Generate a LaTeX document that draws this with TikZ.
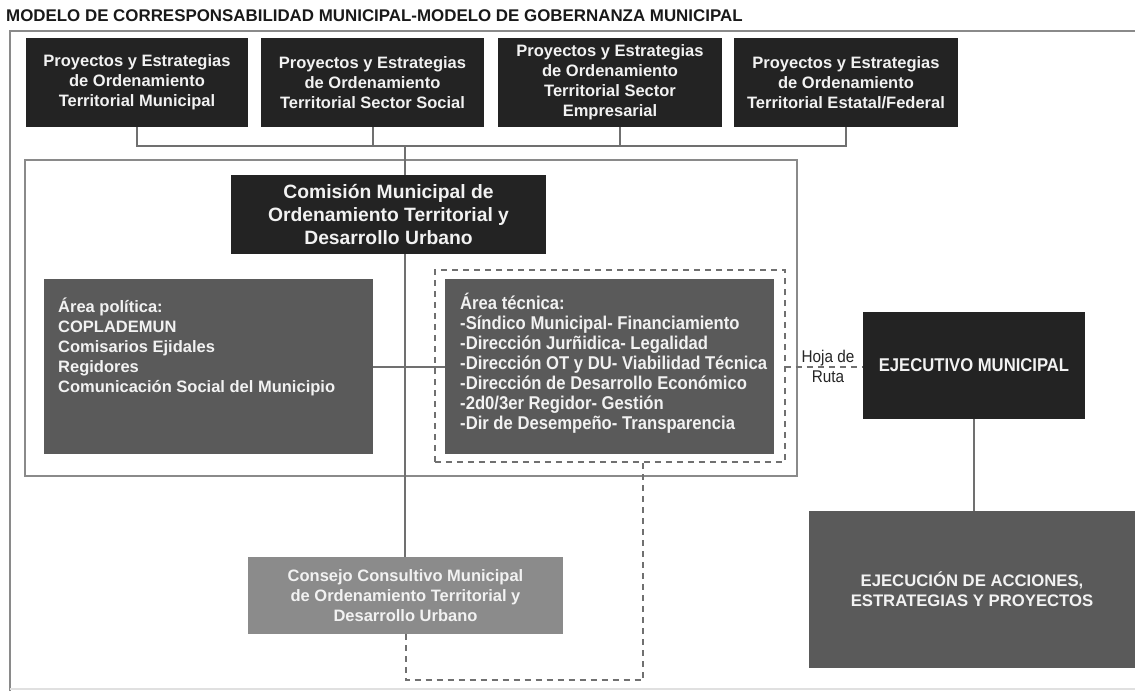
\documentclass[tikz,border=0pt]{standalone}
\usepackage{fontspec}
\setmainfont{Liberation Sans}
\newfontfamily\condf[FakeStretch=0.9]{Liberation Sans}
\definecolor{boxdark}{HTML}{232323}
\definecolor{boxmid}{HTML}{5A5A5A}
\definecolor{boxlight}{HTML}{8B8B8B}
\definecolor{linegray}{HTML}{707070}
\definecolor{framegray}{HTML}{8A8A8A}
\definecolor{txtwhite}{HTML}{F2F2F2}
\begin{document}
\begin{tikzpicture}[x=1pt,y=-1pt,
  base/.style={rectangle, inner sep=0pt, outer sep=0pt, draw=none, text=txtwhite, align=center},
  darkbox/.style={base, fill=boxdark, font=\bfseries\fontsize{16.5}{20}\selectfont},
  midbox/.style={base, fill=boxmid},
  lightbox/.style={base, fill=boxlight, font=\bfseries\fontsize{16.5}{20}\selectfont},
  conn/.style={draw=linegray, line width=2pt},
  dconn/.style={draw=linegray, line width=2pt, dash pattern=on 6pt off 5pt},
  framebox/.style={rectangle, draw=framegray, line width=2.5pt, inner sep=0pt, outer sep=0pt},
  dframe/.style={rectangle, draw=linegray, line width=2pt, dash pattern=on 6pt off 5pt, inner sep=0pt, outer sep=0pt},
  bodytext/.style={anchor=north west, inner sep=0pt, text=txtwhite, align=left},
]
\useasboundingbox (0,0) rectangle (1135,691);
\fill[white] (0,0) rectangle (1135,691);

% title
\node[anchor=west, inner sep=0pt, text=black!90, font=\bfseries\fontsize{16.9}{20}\selectfont] (title) at (6,16)
  {MODELO DE CORRESPONSABILIDAD MUNICIPAL-MODELO DE GOBERNANZA MUNICIPAL};

% outer frame
\draw[draw=framegray, line width=2.5pt] (10,691) -- (10,31) -- (1135,31);
\draw[draw=black!12, line width=1.5pt] (10,689) -- (1135,689);

% top boxes
\node[darkbox, minimum width=222pt, minimum height=89pt] (p1) at (137,82.5)
  {Proyectos y Estrategias\\de Ordenamiento\\Territorial Municipal};
\node[darkbox, minimum width=223pt, minimum height=89pt] (p2) at (372.5,82.5)
  {Proyectos y Estrategias\\de Ordenamiento\\Territorial Sector Social};
\node[darkbox, minimum width=224pt, minimum height=89pt] (p3) at (610,82.5)
  {Proyectos y Estrategias\\de Ordenamiento\\Territorial Sector\\Empresarial};
\node[darkbox, minimum width=224pt, minimum height=89pt] (p4) at (846,82.5)
  {Proyectos y Estrategias\\de Ordenamiento\\Territorial Estatal/Federal};

% inner frame
\node[framebox, minimum width=772pt, minimum height=316pt] (inner) at (411,318) {};

% central commission
\node[darkbox, minimum width=315pt, minimum height=79pt, font=\bfseries\fontsize{19.3}{23.3}\selectfont] (com) at (388.5,214.5)
  {Comisión Municipal de\\Ordenamiento Territorial y\\Desarrollo Urbano};

% bus connectors
\coordinate (j) at (405,146);
\coordinate (b3) at (620,146);
\draw[conn] (p1.south) -- (p1.south |- j) -- (p4.south |- j) -- (p4.south);
\draw[conn] (p2.south) -- (p2.south |- j);
\draw[conn] (b3 |- p3.south) -- (b3);

% consejo
\node[lightbox, minimum width=315pt, minimum height=77pt] (cons) at (405.5,595.5)
  {Consejo Consultivo Municipal\\de Ordenamiento Territorial y\\Desarrollo Urbano};

% main vertical line
\draw[conn] (j) -- (j |- com.north);
\draw[conn] (j |- com.south) -- (j |- cons.north);

% area boxes
\node[midbox, minimum width=329pt, minimum height=175pt] (pol) at (208.5,366.5) {};
\node[bodytext, font=\bfseries\fontsize{16.5}{20}\selectfont] (poltxt) at (58,298)
  {Área política:\\COPLADEMUN\\Comisarios Ejidales\\Regidores\\Comunicación Social del Municipio};

\node[dframe, minimum width=350pt, minimum height=192pt] (tecframe) at (609.8,366) {};
\node[midbox, minimum width=329pt, minimum height=175pt] (tec) at (609.5,366.5) {};
\node[bodytext, font=\condf\bfseries\fontsize{18.5}{20}\selectfont] (tectxt) at (460,293)
  {Área técnica:\\-Síndico Municipal- Financiamiento\\-Dirección Jurñidica- Legalidad\\-Dirección OT y DU- Viabilidad Técnica\\-Dirección de Desarrollo Económico\\-2d0/3er Regidor- Gestión\\-Dir de Desempeño- Transparencia};

\draw[conn] (pol.east) -- (tec.west);

% ejecutivo
\node[darkbox, minimum width=222pt, minimum height=107pt, font=\condf\bfseries\fontsize{18.5}{20}\selectfont] (eje) at (974,365.5)
  {EJECUTIVO MUNICIPAL};
\draw[dconn] (tecframe.east |- pol.east) -- (eje.west |- pol.east);
\node[inner sep=0pt, align=center, text=black!85, font=\condf\fontsize{17}{20}\selectfont] (hoja) at (828,366)
  {Hoja de\\Ruta};

% ejecucion
\node[midbox, minimum width=326pt, minimum height=157pt, font=\bfseries\fontsize{16.7}{20}\selectfont] (exe) at (972,589.5)
  {EJECUCIÓN DE ACCIONES,\\ESTRATEGIAS Y PROYECTOS};
\draw[conn] (eje.south) -- (eje.south |- exe.north);

% dashed return path
\coordinate (d1) at (643,680);
\draw[dconn] (cons.south) |- (d1) -- (d1 |- tecframe.south);
\end{tikzpicture}
\end{document}
